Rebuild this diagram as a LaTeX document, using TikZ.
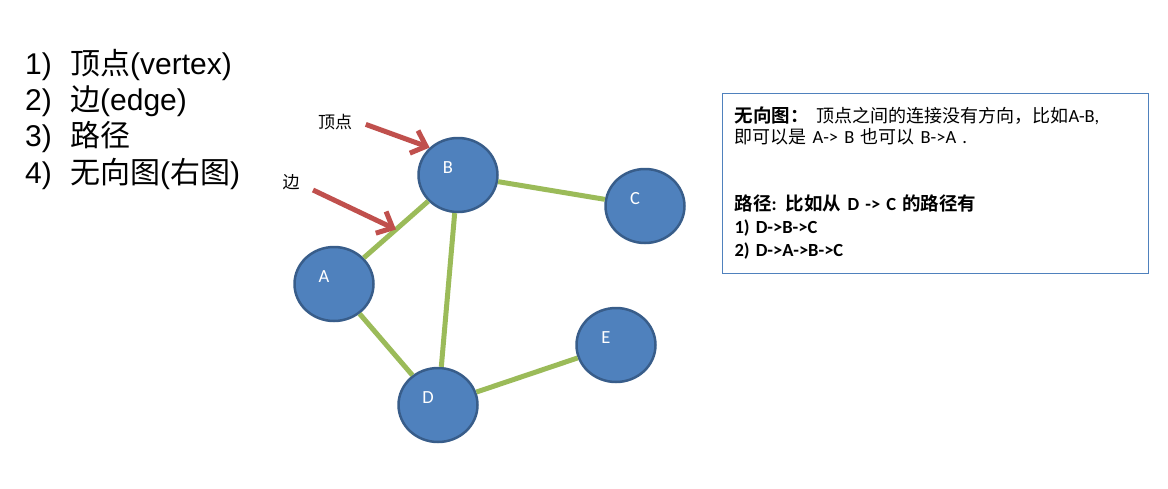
\documentclass[tikz,border=0pt]{standalone}
\usepackage{fontspec}
\setmainfont{Liberation Sans}
\newfontfamily\cjk{Noto Sans CJK SC}[BoldFont={Noto Sans CJK SC Bold}]
\newfontfamily\cali{Carlito}
\usetikzlibrary{arrows.meta,shapes.geometric,calc}
\definecolor{vertexBlue}{HTML}{4F81BD}
\definecolor{vertexRim}{HTML}{385D8A}
\definecolor{edgeGreen}{HTML}{9BBB59}
\definecolor{pointerRed}{HTML}{C0504D}
\newcommand{\zh}[1]{{\cjk #1}}

\begin{document}
\begin{tikzpicture}[
    x=1pt, y=-1pt,
    vertex/.style={
        ellipse,
        draw=vertexRim,
        line width=2.5pt,
        fill=vertexBlue,
        minimum width=79pt,
        minimum height=74pt,
        inner sep=0pt
    },
    vname/.style={text=white, font=\cali\fontsize{18.5}{20}\selectfont},
    edgeLine/.style={draw=edgeGreen, line width=5pt},
    pointer/.style={-{Straight Barb[length=13pt,width=24pt]}, draw=pointerRed, line width=5pt, shorten <=7pt},
    pointLabel/.style={font=\cjk\fontsize{17}{20}\selectfont, inner sep=7pt},
    listItem/.style={anchor=base west, inner sep=0pt, font=\fontsize{30}{36}\selectfont},
    note/.style={
        rectangle,
        draw=vertexBlue,
        line width=1pt,
        minimum width=426pt,
        minimum height=180pt,
        text width=402pt,
        inner sep=12pt,
        align=left,
        font=\cali\fontsize{18.5}{23}\selectfont
    }
]
    \useasboundingbox (0,0) rectangle (1168,488);

    % list on the left
    \node[listItem] (item1) at (25,74) {\makebox[45pt][l]{1)}\zh{顶点}(vertex)};
    \node[listItem] (item2) at (25,110) {\makebox[45pt][l]{2)}\zh{边}(edge)};
    \node[listItem] (item3) at (25,146) {\makebox[45pt][l]{3)}\zh{路径}};
    \node[listItem] (item4) at (25,183) {\makebox[45pt][l]{4)}\zh{无向图}(\zh{右图})};

    % the graph
    \node[vertex, label={[vname, xshift=-10pt, yshift=7pt]center:B}] (b) at (458,175) {};
    \node[vertex, label={[vname, xshift=-10pt, yshift=7pt]center:C}] (c) at (645,206) {};
    \node[vertex, label={[vname, xshift=-10pt, yshift=7pt]center:A}] (a) at (334,284) {};
    \node[vertex, label={[vname, xshift=-10pt, yshift=7pt]center:D}] (d) at (438,405) {};
    \node[vertex, label={[vname, xshift=-10pt, yshift=7pt]center:E}] (e) at (616,345) {};

    \draw[edgeLine] (b) -- (c);
    \draw[edgeLine] (b) -- (a);
    \draw[edgeLine] (b) -- (d);
    \draw[edgeLine] (a) -- (d);
    \draw[edgeLine] (d) -- (e);

    % pointers
    \node[pointLabel] (vtxlbl) at (335,122) {顶点};
    \node[pointLabel] (edgelbl) at (291,182) {边};
    \coordinate (abmid) at ($(a)!0.5!(b)$);
    \draw[pointer] (vtxlbl.east) -- (b.136);
    \draw[pointer] ([yshift=-5pt]edgelbl.east) -- (abmid);

    % note box
    \node[note, anchor=north west] (undirected) at (722,93) {%
        {\bfseries\zh{无向图：}}\hspace{8pt}{\cjk\fontsize{18}{23}\selectfont 顶点之间的连接没有方向，比如}A-B,\\[-2pt]
        {\cjk\fontsize{18}{23}\selectfont 即可以是} A-> B {\cjk\fontsize{18}{23}\selectfont 也可以} B->A .\\[44pt]
        \textbf{\zh{路径}: \zh{比如从} D -> C \zh{的路径有}}\\
        \textbf{1) D->B->C}\\
        \textbf{2) D->A->B->C}};
\end{tikzpicture}
\end{document}
